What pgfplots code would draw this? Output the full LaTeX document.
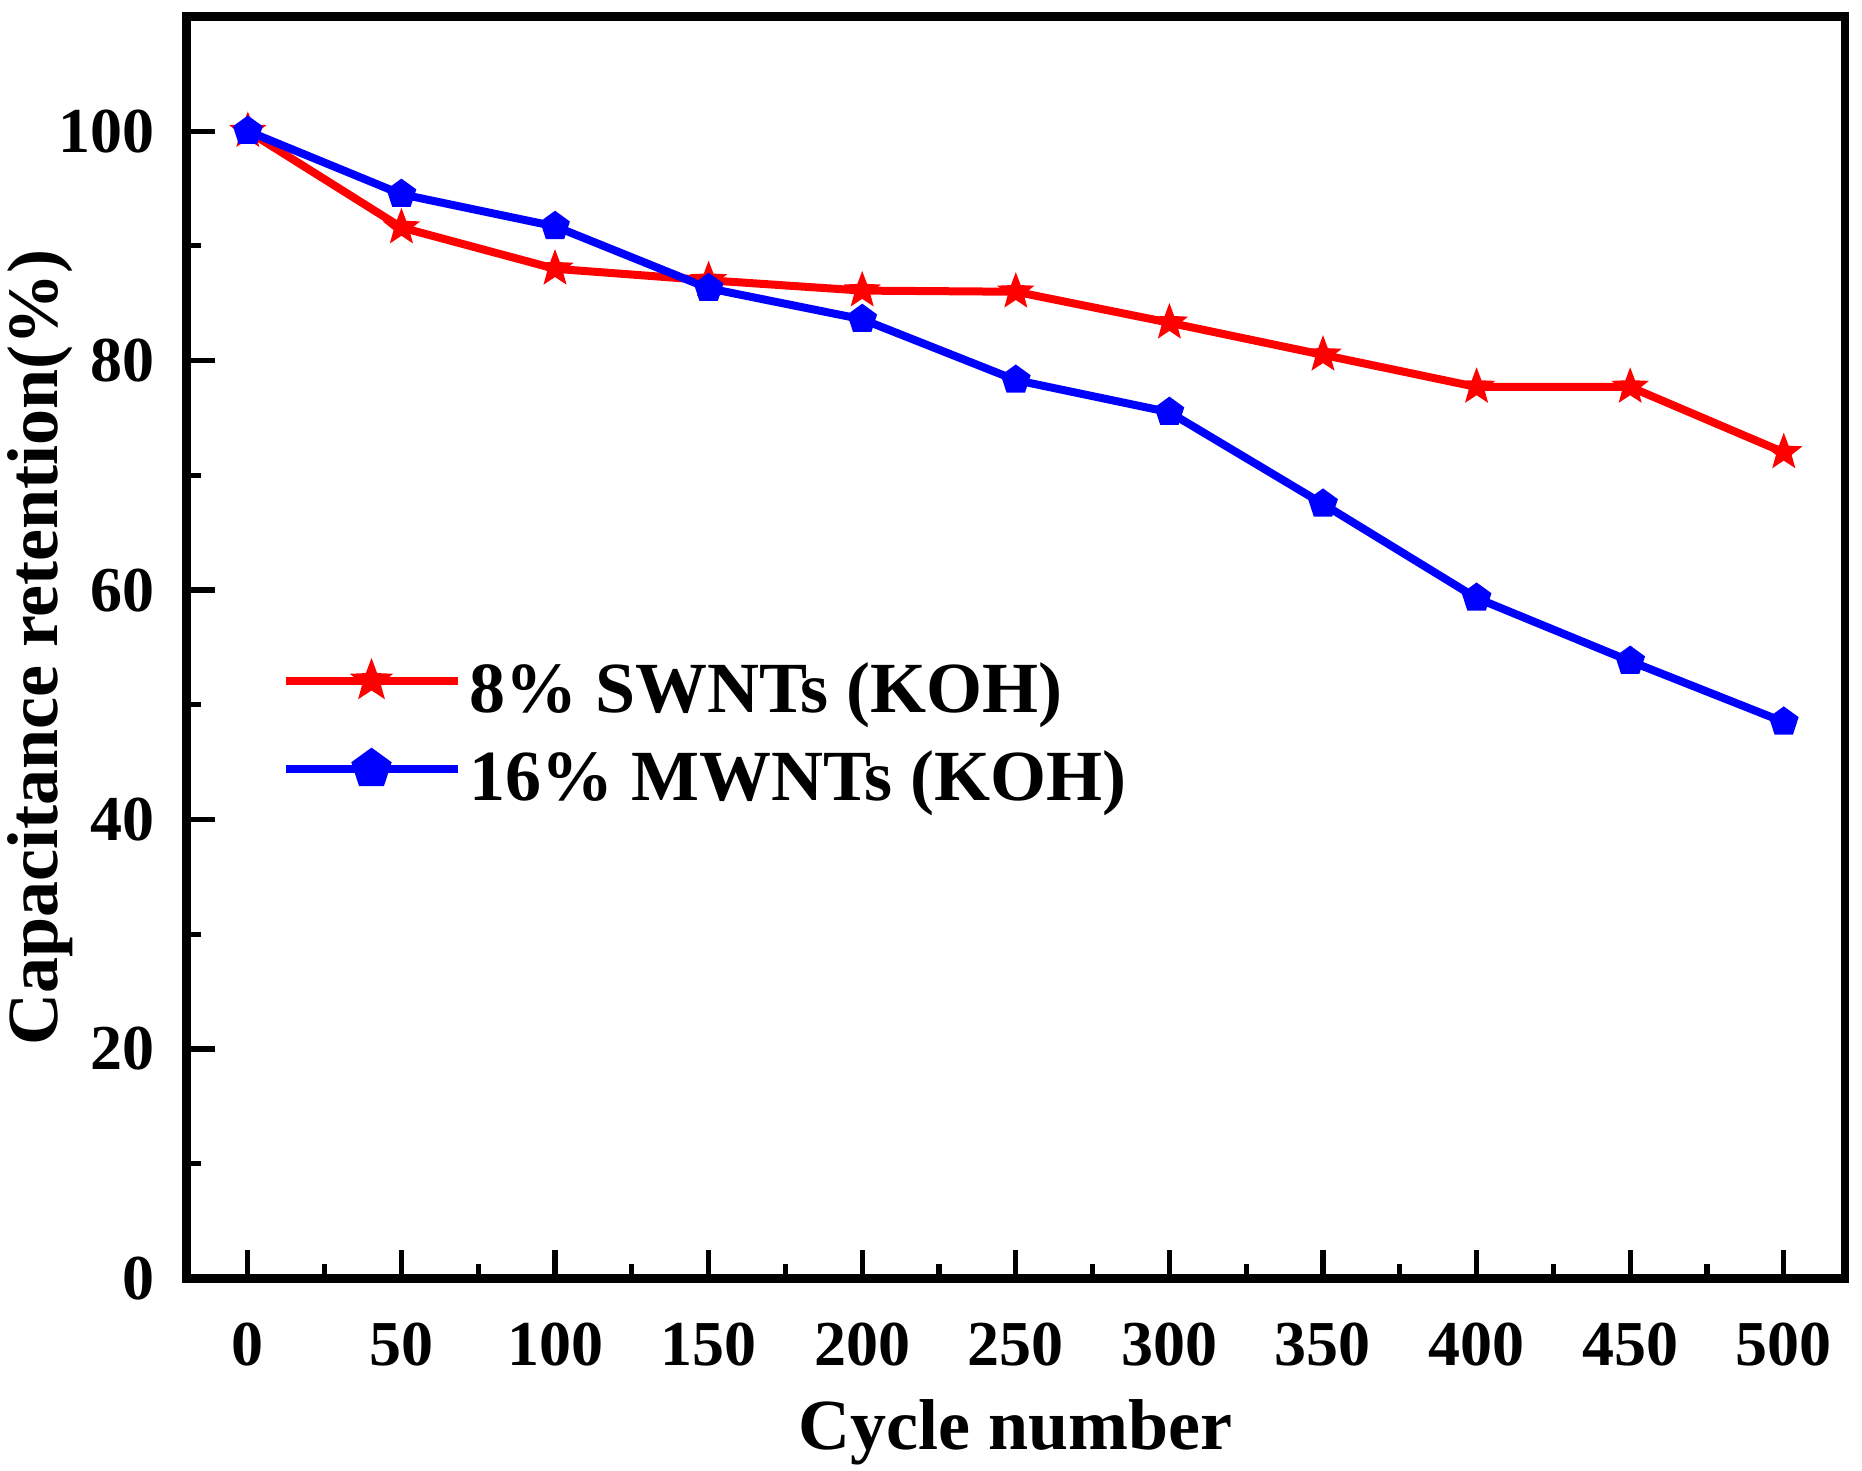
\documentclass[border=0pt]{standalone}
\usepackage{pgfplots}
\pgfplotsset{compat=1.18}
\usepackage{fontspec}
\setmainfont{Liberation Serif}
\pgfdeclareplotmark{fstar}{%
  \pgfpathmoveto{\pgfqpointpolar{90}{\pgfplotmarksize}}%
  \pgfpathlineto{\pgfqpointpolar{126}{0.42\pgfplotmarksize}}%
  \pgfpathlineto{\pgfqpointpolar{162}{\pgfplotmarksize}}%
  \pgfpathlineto{\pgfqpointpolar{198}{0.42\pgfplotmarksize}}%
  \pgfpathlineto{\pgfqpointpolar{234}{\pgfplotmarksize}}%
  \pgfpathlineto{\pgfqpointpolar{270}{0.42\pgfplotmarksize}}%
  \pgfpathlineto{\pgfqpointpolar{306}{\pgfplotmarksize}}%
  \pgfpathlineto{\pgfqpointpolar{342}{0.42\pgfplotmarksize}}%
  \pgfpathlineto{\pgfqpointpolar{18}{\pgfplotmarksize}}%
  \pgfpathlineto{\pgfqpointpolar{54}{0.42\pgfplotmarksize}}%
  \pgfpathclose
  \pgfusepathqfillstroke}
\begin{document}
\begin{tikzpicture}
\begin{axis}[
  at={(0,0)}, anchor=south west,
  scale only axis,
  width=414.7pt, height=315.5pt,
  xmin=-20, xmax=520, ymin=0, ymax=110,
  xtick={0,50,...,500}, ytick={0,20,...,100},
  minor xtick={25,75,...,475}, minor ytick={10,30,...,90},
  tick pos=left, tick align=inside,
  major tick length=7.2pt, minor tick length=3.6pt,
  every tick/.style={black, line width=1.3pt},
  axis line style={line width=2.1pt},
  /pgf/number format/assume math mode=true,
  ticklabel style={font=\fontsize{16}{18}\selectfont\bfseries},
  xticklabel style={yshift=-7.5pt},
  yticklabel style={xshift=-4.5pt},
  label style={font=\fontsize{18}{20}\selectfont\bfseries},
  xlabel={Cycle number},
  ylabel={Capacitance retention(\%)},
  xlabel style={yshift=-1.5pt},
  ylabel style={yshift=-10.5pt},
  legend cell align=left,
  legend image code/.code={
    \draw[#1, mark size=5pt] (0pt,0.33em) -- (43pt,0.33em);
    \draw[#1, mark size=5pt] plot coordinates {(21.5pt,0.33em)};
  },
  legend style={draw=none, fill=none, at={(axis cs:10.7,47.1)}, anchor=west,
    inner sep=0pt, font=\fontsize{18}{20}\selectfont\bfseries,
    row sep=5pt,
    nodes={inner xsep=2pt, inner ysep=0pt, text height=13pt, text depth=4pt}},
]
\addplot[red, line width=2pt, mark=fstar, mark size=4.2pt, mark options={fill=red, solid, line width=0.5pt}]
  coordinates {(0,100) (50,91.6) (100,88.0) (150,87.0) (200,86.1) (250,86.0) (300,83.3) (350,80.5) (400,77.7) (450,77.7) (500,72.0)};
\addlegendentry{8\% SWNTs (KOH)}
\addplot[blue, line width=2pt, mark=pentagon*, mark size=3.6pt, mark options={fill=blue, solid, line width=0.5pt}]
  coordinates {(0,100) (50,94.5) (100,91.7) (150,86.3) (200,83.6) (250,78.3) (300,75.5) (350,67.5) (400,59.3) (450,53.8) (500,48.5)};
\addlegendentry{16\% MWNTs (KOH)}
\end{axis}
\pgfresetboundingbox
\path (-46.6pt,-47.9pt) rectangle (418.9pt,319.6pt);
\end{tikzpicture}
\end{document}
